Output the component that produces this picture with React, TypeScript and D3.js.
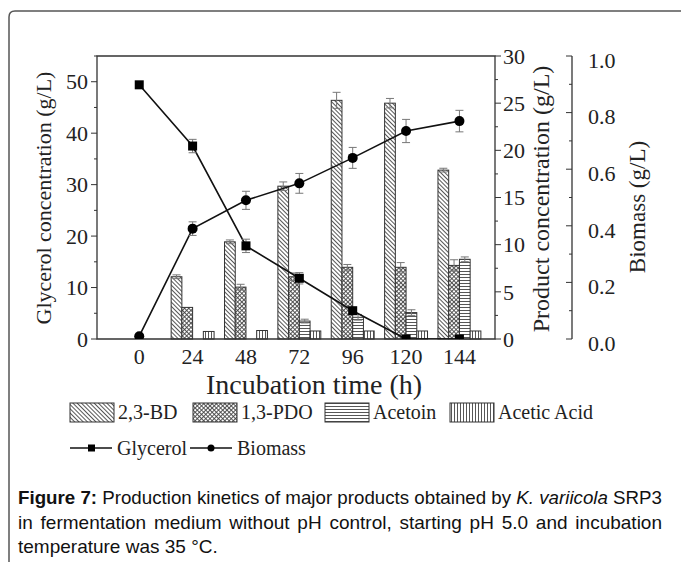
import React, { useEffect, useRef } from "react";
import * as d3 from "d3";

// Sampling times (h)
const times = [0, 24, 48, 72, 96, 120, 144];
const xTickLabels = ["0", "24", "48", "72", "96", "120", "144"];

// Product concentrations (g/L), right axis
const bd = [0, 6.6, 10.3, 16.2, 25.3, 25.0, 17.9];
const bdErr = [0, 0.2, 0.2, 0.45, 0.85, 0.5, 0.2];
const pdo = [0, 3.35, 5.5, 6.6, 7.6, 7.6, 7.8];
const pdoErr = [0, 0, 0.3, 0.4, 0.3, 0.5, 0.6];
const acetoin = [0, 0, 0, 1.9, 2.3, 2.8, 8.45];
const acetoinErr = [0, 0, 0, 0.2, 0.3, 0.3, 0.25];
const aceticAcid = [0, 0.8, 0.9, 0.85, 0.85, 0.85, 0.85];
const aceticErr = [0, 0, 0, 0, 0, 0, 0];

// Glycerol (g/L), left axis
const glycerol = [49.4, 37.5, 18.1, 11.8, 5.5, 0, 0];
const glycerolErr = [0, 1.3, 1.3, 1.1, 0, 0, 0];

// Biomass (g/L), far right axis
const biomass = [0.01, 0.39, 0.49, 0.55, 0.64, 0.735, 0.77];
const biomassErr = [0, 0.024, 0.032, 0.035, 0.037, 0.041, 0.038];

const barSeries = [
  { name: "2,3-BD", values: bd, err: bdErr, pattern: "pBD" },
  { name: "1,3-PDO", values: pdo, err: pdoErr, pattern: "pPDO" },
  { name: "Acetoin", values: acetoin, err: acetoinErr, pattern: "pAcetoin" },
  { name: "Acetic Acid", values: aceticAcid, err: aceticErr, pattern: "pAcetic" },
];

const captionLines = [
  [
    { t: "Figure 7:", bold: true },
    { t: " Production kinetics of major products obtained by " },
    { t: "K. variicola", italic: true },
    { t: " SRP3" },
  ],
  [{ t: "in fermentation medium without pH control, starting pH 5.0 and incubation" }],
  [{ t: "temperature was 35 °C." }],
];

const App = () => {
  const svgRef = useRef(null);

  useEffect(() => {
    const root = d3.select(svgRef.current);
    root.selectAll("*").remove();

    const serif = "'Liberation Serif', 'Times New Roman', serif";
    const ink = "#222";

    const plot = { left: 97, right: 495, top: 56, bottom: 339 };

    const x = d3.scaleLinear().domain([-19, 160]).range([plot.left, plot.right]);
    const yGly = d3.scaleLinear().domain([0, 55]).range([plot.bottom, plot.top]);
    const yProd = d3.scaleLinear().domain([0, 30]).range([plot.bottom, plot.top]);
    const yBio = d3.scaleLinear().domain([0, 1]).range([plot.bottom, plot.top]);

    // outer frame
    root
      .append("path")
      .attr("d", "M9,600 L9,17 Q9,11 15,11 L700,11")
      .attr("fill", "none")
      .attr("stroke", "#555")
      .attr("stroke-width", 1.5);

    // hatch patterns
    const defs = root.append("defs");
    const hatch = (id, rotate, lines) => {
      const p = defs
        .append("pattern")
        .attr("id", id)
        .attr("patternUnits", "userSpaceOnUse")
        .attr("width", 3)
        .attr("height", 3);
      if (rotate) p.attr("patternTransform", `rotate(${rotate})`);
      p.append("rect").attr("width", 3).attr("height", 3).attr("fill", "#fff");
      lines.forEach((l) =>
        p
          .append("line")
          .attr("x1", l[0])
          .attr("y1", l[1])
          .attr("x2", l[2])
          .attr("y2", l[3])
          .attr("stroke", "#444")
          .attr("stroke-width", 0.9)
      );
    };
    hatch("pBD", -45, [[0.5, 0, 0.5, 3]]);
    hatch("pPDO", 45, [[0.5, 0, 0.5, 3], [0, 0.5, 3, 0.5]]);
    hatch("pAcetoin", 0, [[0, 1.5, 3, 1.5]]);
    hatch("pAcetic", 0, [[1.5, 0, 1.5, 3]]);

    // bars
    const groupHalf = x(9.65) - x(0);
    const sub = d3
      .scaleBand()
      .domain(barSeries.map((s) => s.name))
      .range([-groupHalf, groupHalf])
      .padding(0);

    const bars = root.append("g");
    barSeries.forEach((s) => {
      times.forEach((t, i) => {
        const v = s.values[i];
        if (!v) return;
        const bx = x(t) + sub(s.name);
        bars
          .append("rect")
          .attr("x", bx)
          .attr("y", yProd(v))
          .attr("width", sub.bandwidth())
          .attr("height", yProd(0) - yProd(v))
          .attr("fill", `url(#${s.pattern})`)
          .attr("stroke", "#333")
          .attr("stroke-width", 1);
        const e = s.err[i];
        if (e) {
          const cx = bx + sub.bandwidth() / 2;
          const eb = bars.append("g").attr("stroke", "#777").attr("stroke-width", 1);
          eb.append("line").attr("x1", cx).attr("x2", cx).attr("y1", yProd(v - e)).attr("y2", yProd(v + e));
          [v - e, v + e].forEach((yy) =>
            eb.append("line").attr("x1", cx - 4).attr("x2", cx + 4).attr("y1", yProd(yy)).attr("y2", yProd(yy))
          );
        }
      });
    });

    // frame of plot
    root
      .append("path")
      .attr("d", `M${plot.left},${plot.bottom} L${plot.left},${plot.top} L${plot.right},${plot.top} L${plot.right},${plot.bottom} Z`)
      .attr("fill", "none")
      .attr("stroke", "#333")
      .attr("stroke-width", 1.3);

    // lines with markers
    root
      .append("clipPath")
      .attr("id", "plotClip")
      .append("rect")
      .attr("x", plot.left)
      .attr("y", plot.top - 10)
      .attr("width", plot.right - plot.left)
      .attr("height", plot.bottom - plot.top + 10);

    const lines = root.append("g").attr("clip-path", "url(#plotClip)");
    const drawSeries = (vals, errs, y, marker) => {
      const pts = times.map((t, i) => [t, vals[i]]);
      lines
        .append("path")
        .datum(pts)
        .attr("fill", "none")
        .attr("stroke", "#111")
        .attr("stroke-width", 1.6)
        .attr("d", d3.line().x((d) => x(d[0])).y((d) => y(d[1])));
      times.forEach((t, i) => {
        const e = errs[i];
        if (!e) return;
        const cx = x(t);
        const eb = lines.append("g").attr("stroke", "#777").attr("stroke-width", 1);
        eb.append("line").attr("x1", cx).attr("x2", cx).attr("y1", y(vals[i] - e)).attr("y2", y(vals[i] + e));
        [vals[i] - e, vals[i] + e].forEach((yy) =>
          eb.append("line").attr("x1", cx - 4).attr("x2", cx + 4).attr("y1", y(yy)).attr("y2", y(yy))
        );
      });
      times.forEach((t, i) => {
        if (marker === "square") {
          lines
            .append("rect")
            .attr("x", x(t) - 4.5)
            .attr("y", y(vals[i]) - 4.5)
            .attr("width", 9)
            .attr("height", 9)
            .attr("fill", "#000");
        } else {
          lines.append("circle").attr("cx", x(t)).attr("cy", y(vals[i])).attr("r", 5).attr("fill", "#000");
        }
      });
    };
    drawSeries(glycerol, glycerolErr, yGly, "square");
    drawSeries(biomass, biomassErr, yBio, "circle");

    // left axis
    const gLeft = root.append("g").attr("font-family", serif).attr("fill", ink);
    d3.range(0, 55.1, 5).forEach((v) => {
      const major = v % 10 === 0;
      gLeft
        .append("line")
        .attr("x1", plot.left)
        .attr("x2", plot.left - (major ? 6 : 3))
        .attr("y1", yGly(v))
        .attr("y2", yGly(v))
        .attr("stroke", "#333");
      if (major)
        gLeft
          .append("text")
          .attr("x", plot.left - 9)
          .attr("y", yGly(v))
          .attr("dy", "0.35em")
          .attr("text-anchor", "end")
          .attr("font-size", 22)
          .text(v);
    });

    // right product axis
    const gRight = root.append("g").attr("font-family", serif).attr("fill", ink);
    d3.range(0, 30.1, 2.5).forEach((v) => {
      const major = v % 5 === 0;
      gRight
        .append("line")
        .attr("x1", plot.right)
        .attr("x2", plot.right + (major ? 6 : 3))
        .attr("y1", yProd(v))
        .attr("y2", yProd(v))
        .attr("stroke", "#333");
      if (major)
        gRight
          .append("text")
          .attr("x", plot.right + 8)
          .attr("y", yProd(v))
          .attr("dy", "0.35em")
          .attr("font-size", 22)
          .text(v);
    });

    // biomass axis
    const bioX = 572;
    const gBio = root.append("g").attr("font-family", serif).attr("fill", ink);
    gBio
      .append("line")
      .attr("x1", bioX)
      .attr("x2", bioX)
      .attr("y1", yBio(0))
      .attr("y2", yBio(1))
      .attr("stroke", "#333")
      .attr("stroke-width", 1.3);
    d3.range(0, 10.1, 1).forEach((k) => {
      const v = k / 10;
      const major = k % 2 === 0;
      gBio
        .append("line")
        .attr("x1", bioX)
        .attr("x2", bioX - (major ? 6 : 3))
        .attr("y1", yBio(v))
        .attr("y2", yBio(v))
        .attr("stroke", "#333");
      if (major)
        gBio
          .append("text")
          .attr("x", bioX + 16)
          .attr("y", yBio(v) + 4)
          .attr("dy", "0.35em")
          .attr("font-size", 22)
          .text(d3.format(".1f")(v));
    });

    // x tick labels
    const gX = root.append("g").attr("font-family", serif).attr("fill", ink);
    times.forEach((t, i) =>
      gX
        .append("text")
        .attr("x", x(t))
        .attr("y", 364)
        .attr("text-anchor", "middle")
        .attr("font-size", 22)
        .text(xTickLabels[i])
    );

    // axis titles
    const titles = root.append("g").attr("font-family", serif).attr("fill", ink);
    titles
      .append("text")
      .attr("x", (plot.left + plot.right) / 2 + 18)
      .attr("y", 394)
      .attr("text-anchor", "middle")
      .attr("font-size", 28)
      .text("Incubation time (h)");
    titles
      .append("text")
      .attr("transform", "translate(51,198) rotate(-90)")
      .attr("text-anchor", "middle")
      .attr("font-size", 22)
      .text("Glycerol concentration (g/L)");
    titles
      .append("text")
      .attr("transform", "translate(549,199) rotate(-90)")
      .attr("text-anchor", "middle")
      .attr("font-size", 24)
      .text("Product concentration (g/L)");
    titles
      .append("text")
      .attr("transform", "translate(645,207) rotate(-90)")
      .attr("text-anchor", "middle")
      .attr("font-size", 23)
      .text("Biomass (g/L)");

    // legend
    const legend = root.append("g").attr("font-family", serif).attr("fill", ink).attr("font-size", 20);
    const patchX = [70, 193, 325, 450];
    barSeries.forEach((s, i) => {
      legend
        .append("rect")
        .attr("x", patchX[i])
        .attr("y", 403)
        .attr("width", 44)
        .attr("height", 19)
        .attr("fill", `url(#${s.pattern})`)
        .attr("stroke", "#333");
      legend
        .append("text")
        .attr("x", patchX[i] + 48)
        .attr("y", 412)
        .attr("dy", "0.35em")
        .text(s.name);
    });
    const lineItems = [
      { name: "Glycerol", x0: 70, marker: "square" },
      { name: "Biomass", x0: 190, marker: "circle" },
    ];
    lineItems.forEach((it) => {
      const cy = 448;
      legend
        .append("line")
        .attr("x1", it.x0)
        .attr("x2", it.x0 + 42)
        .attr("y1", cy)
        .attr("y2", cy)
        .attr("stroke", "#111")
        .attr("stroke-width", 1.5);
      if (it.marker === "square")
        legend.append("rect").attr("x", it.x0 + 18).attr("y", cy - 3.5).attr("width", 7).attr("height", 7).attr("fill", "#000");
      else legend.append("circle").attr("cx", it.x0 + 21).attr("cy", cy).attr("r", 3.5).attr("fill", "#000");
      legend
        .append("text")
        .attr("x", it.x0 + 47)
        .attr("y", cy)
        .attr("dy", "0.35em")
        .text(it.name);
    });

    // caption, first two lines justified
    const cap = root.append("g").attr("font-family", "'Liberation Sans', Arial, sans-serif").attr("font-size", 19).attr("fill", "#111");
    const capLeft = 18;
    const capRight = 662;
    captionLines.forEach((parts, li) => {
      const txt = cap.append("text").attr("x", capLeft).attr("y", 504 + li * 24.5);
      parts.forEach((p) => {
        const ts = txt.append("tspan").text(p.t);
        if (p.bold) ts.attr("font-weight", "bold");
        if (p.italic) ts.attr("font-style", "italic");
      });
      if (li < 2) {
        const natural = txt.node().getComputedTextLength();
        if (natural > capRight - capLeft) {
          txt.attr("textLength", capRight - capLeft).attr("lengthAdjust", "spacingAndGlyphs");
        } else {
          const spaces = parts.map((p) => p.t).join("").split(" ").length - 1;
          txt.attr("word-spacing", (capRight - capLeft - natural) / spaces);
        }
      }
    });
  }, []);

  return (
    <svg
      ref={svgRef}
      width={681}
      height={562}
      style={{ position: "absolute", left: 0, top: 0, background: "#fff" }}
    ></svg>
  );
};

export default App;
